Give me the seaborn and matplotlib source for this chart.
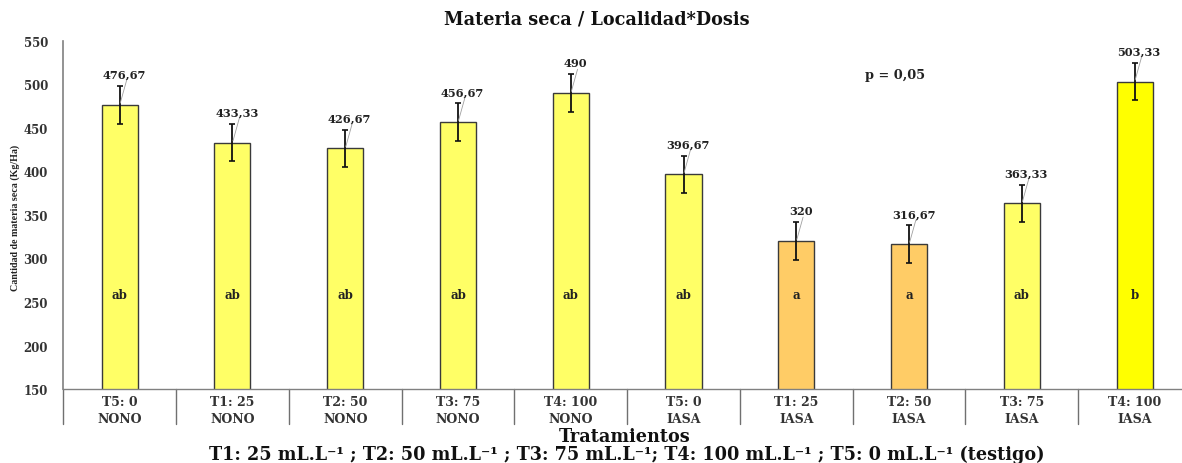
import numpy as np
import pandas as pd
import matplotlib
matplotlib.use("Agg")
import matplotlib.pyplot as plt
import matplotlib.transforms as mtransforms
import seaborn as sns

# Treatment / locality combinations
dosis = ["T5: 0", "T1: 25", "T2: 50", "T3: 75", "T4: 100",
         "T5: 0", "T1: 25", "T2: 50", "T3: 75", "T4: 100"]
localidad = ["NONO"] * 5 + ["IASA"] * 5
materia_seca = [476.67, 433.33, 426.67, 456.67, 490.0,
                396.67, 320.0, 316.67, 363.33, 503.33]
error = [21.5] * 10
letras = ["ab", "ab", "ab", "ab", "ab", "ab", "a", "a", "ab", "b"]
etiquetas = ["476,67", "433,33", "426,67", "456,67", "490",
             "396,67", "320", "316,67", "363,33", "503,33"]
colores = ["#FFFF66"] * 6 + ["#FFCC66", "#FFCC66", "#FFFF66", "#FFFF00"]
yticks = [150, 200, 250, 300, 350, 400, 450, 500, 550]

df = pd.DataFrame({
    "trat": [f"{d}\n{l}" for d, l in zip(dosis, localidad)],
    "valor": materia_seca,
})

sns.set_theme(style="white")
plt.rcParams["font.family"] = ["DejaVu Serif"]
plt.rcParams["font.weight"] = "bold"

fig = plt.figure(figsize=(11.82, 4.64), dpi=100)
ax = fig.add_axes([63.3 / 1182, 1 - 390 / 464, (1191 - 63.3) / 1182, 348 / 464])

sns.barplot(data=df, x="trat", y="valor", hue="trat", palette=colores,
            legend=False, width=0.32, edgecolor="#3a3a3a", linewidth=1.0,
            saturation=1, errorbar=None, ax=ax)

xs = np.arange(len(materia_seca))
ax.errorbar(xs, materia_seca, yerr=error, fmt="none", ecolor="#111111",
            elinewidth=1.3, capsize=2.2, capthick=1.2, zorder=4)

for x, v, e, lab in zip(xs, materia_seca, error, etiquetas):
    ax.plot([x + 0.005, x + 0.06], [v + 2, v + e + 6], color="#a0a0a0",
            lw=0.6, zorder=5)
    ax.text(x + 0.04, v + 35, lab, ha="center", va="center",
            fontsize=8.2, fontweight="bold", color="#222222")

for x, let in zip(xs, letras):
    ax.text(x, 259, let, ha="center", va="center", fontsize=8.5,
            fontweight="bold", color="#222222")

ax.set_xlim(-0.5, len(materia_seca) - 0.5)
ax.set_ylim(150, 550)
ax.set_yticks(yticks)
ax.set_yticklabels([str(t) for t in yticks], fontsize=8.5, fontweight="bold",
                   color="#333333")
ax.tick_params(axis="y", length=0, pad=11)
ax.tick_params(axis="x", length=0, pad=4)
for t in ax.get_xticklabels():
    t.set_fontsize(9)
    t.set_fontweight("bold")
    t.set_color("#333333")
    t.set_linespacing(1.45)
ax.set_xlabel("")
ax.set_ylabel("")

for s in ["top", "right"]:
    ax.spines[s].set_visible(False)
ax.spines["left"].set_color("#808080")
ax.spines["left"].set_linewidth(1.2)
ax.spines["bottom"].set_color("#808080")
ax.spines["bottom"].set_linewidth(1.0)

# Column separators of the category band under the axis
trans = mtransforms.blended_transform_factory(ax.transData, ax.transAxes)
for b in np.arange(-0.5, len(materia_seca) - 0.5, 1.0):
    ax.plot([b, b], [0, -35 / 348], transform=trans, color="#707070",
            lw=1.0, clip_on=False)

ax.text(0.7375, 0.905, "p = 0,05", transform=ax.transAxes, ha="center",
        va="center", fontsize=9.3, fontweight="bold", color="#222222")

fig.text(597 / 1182, 1 - 20 / 464, "Materia seca / Localidad*Dosis",
         ha="center", va="center", fontsize=12.7, fontweight="bold",
         color="#111111")
fig.text(15 / 1182, 1 - 218 / 464, "Cantidad de materia seca (Kg/Ha)",
         rotation=90, ha="center", va="center", fontsize=7.2,
         fontweight="bold", family="Liberation Serif", color="#222222")
fig.text(625 / 1182, 1 - 437 / 464, "Tratamientos", ha="center", va="center",
         fontsize=12.7, fontweight="bold", color="#111111")
fig.text(627 / 1182, 1 - 455 / 464,
         "T1: 25 mL.L⁻¹ ; T2: 50 mL.L⁻¹ ; T3: 75 mL.L⁻¹; T4: 100 mL.L⁻¹ ; "
         "T5: 0 mL.L⁻¹ (testigo)",
         ha="center", va="center", fontsize=12.7, fontweight="bold",
         color="#111111")

fig.savefig("out.png", dpi=100)
